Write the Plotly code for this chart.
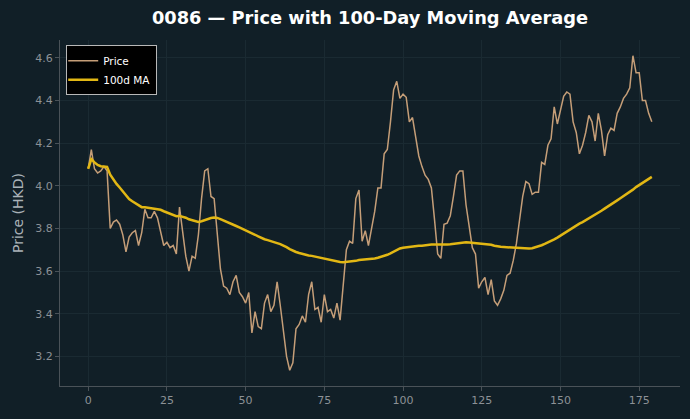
import numpy as np
import pandas as pd
import plotly.graph_objects as go

# Daily closing prices (HKD), index = trading day
price = [
    4.08, 4.17, 4.08, 4.06, 4.07, 4.09, 4.07, 3.80, 3.83, 3.84,
    3.82, 3.77, 3.69, 3.76, 3.78, 3.79, 3.72, 3.78, 3.89, 3.85,
    3.85, 3.88, 3.85, 3.78, 3.72, 3.735, 3.71, 3.72, 3.68, 3.90,
    3.78, 3.67, 3.60, 3.67, 3.66, 3.77, 3.94, 4.07, 4.08, 3.95,
    3.94, 3.78, 3.61, 3.53, 3.52, 3.49, 3.55, 3.58, 3.50, 3.48,
    3.45, 3.50, 3.31, 3.41, 3.34, 3.33, 3.45, 3.49, 3.41, 3.44,
    3.55, 3.44, 3.32, 3.20, 3.135, 3.17, 3.33, 3.35, 3.39, 3.36,
    3.49, 3.55, 3.42, 3.43, 3.36, 3.49, 3.41, 3.42, 3.38, 3.45,
    3.37, 3.55, 3.70, 3.74, 3.73, 3.94, 3.98, 3.74, 3.79, 3.72,
    3.80, 3.88, 3.99, 3.99, 4.15, 4.17, 4.30, 4.45, 4.49, 4.41,
    4.43, 4.415, 4.30, 4.32, 4.23, 4.14, 4.09, 4.05, 4.03, 3.99,
    3.84, 3.68, 3.66, 3.82, 3.825, 3.86, 3.95, 4.05, 4.07, 4.07,
    3.91, 3.81, 3.71, 3.68, 3.52, 3.55, 3.57, 3.49, 3.56, 3.46,
    3.44, 3.47, 3.51, 3.58, 3.59, 3.65, 3.73, 3.84, 3.95, 4.02,
    4.01, 3.96, 3.97, 3.97, 4.11, 4.10, 4.19, 4.22, 4.37, 4.29,
    4.36, 4.42, 4.44, 4.43, 4.30, 4.25, 4.15, 4.19, 4.25, 4.33,
    4.30, 4.21, 4.34, 4.26, 4.14, 4.24, 4.27, 4.26, 4.34, 4.37,
    4.41, 4.43, 4.46, 4.61, 4.53, 4.53, 4.40, 4.40, 4.34, 4.30,
]
days = list(range(len(price)))
x_ticks = [0, 25, 50, 75, 100, 125, 150, 175]

ma100 = pd.Series(price).rolling(100, min_periods=1).mean().tolist()

BG = "#111f27"
GRID = "#1a2a32"
AX = "#4a5258"
TXT = "#8c9196"

fig = go.Figure()
fig.add_trace(go.Scatter(x=days, y=price, mode="lines", name="Price",
                         line=dict(color="#c59e78", width=1.5)))
fig.add_trace(go.Scatter(x=days, y=ma100, mode="lines", name="100d MA",
                         line=dict(color="#e2b714", width=2.5)))

lo, hi = min(price), max(price)
pad = (hi - lo) * 0.05
xpad = (len(price) - 1) * 0.05

fig.update_layout(
    width=690, height=419,
    paper_bgcolor=BG, plot_bgcolor=BG,
    margin=dict(l=60, r=10, t=40, b=33),
    font=dict(family="DejaVu Sans", color=TXT, size=11),
    title=dict(text="<b>0086 — Price with 100-Day Moving Average</b>",
               xref="paper", x=0.5, xanchor="center", y=0.957, yanchor="middle",
               font=dict(size=17.8, color="#ffffff", family="DejaVu Sans")),
    showlegend=True,
    legend=dict(x=0.01, y=0.985, xanchor="left", yanchor="top",
                bgcolor="#000000", bordercolor="#b8b8b8", borderwidth=1,
                font=dict(color="#ffffff", size=10.5, family="DejaVu Sans"),
                itemwidth=30, tracegroupgap=0, indentation=-4),
    xaxis=dict(range=[-xpad, len(price) - 1 + xpad], tickvals=x_ticks,
               showgrid=True, gridcolor=GRID, gridwidth=1, zeroline=False,
               showline=True, linecolor=AX, linewidth=1,
               ticks="outside", ticklen=4, tickcolor=AX,
               tickfont=dict(color=TXT, size=11)),
    yaxis=dict(range=[lo - pad, hi + pad], dtick=0.2, tick0=0, tickformat=".1f",
               showgrid=True, gridcolor=GRID, gridwidth=1, zeroline=False,
               showline=True, linecolor=AX, linewidth=1,
               ticks="outside", ticklen=4, tickcolor=AX,
               tickfont=dict(color=TXT, size=11),
               title=dict(text="Price (HKD)", font=dict(color="#aab2b8", size=14),
                          standoff=8)),
)

fig.write_html("out.html")
